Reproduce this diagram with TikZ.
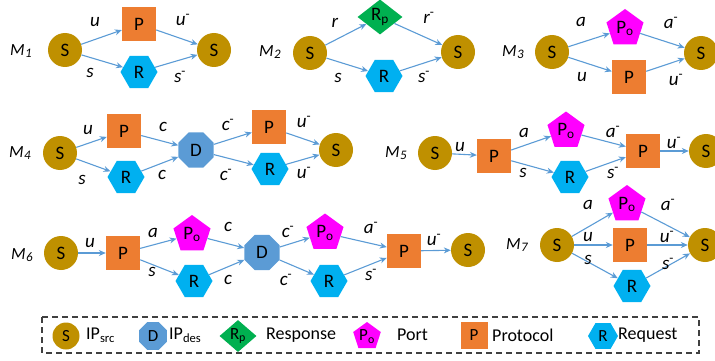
\documentclass[tikz,border=0pt]{standalone}
\usepackage{fontspec}
\setmainfont{Carlito}
\usetikzlibrary{shapes.geometric,arrows.meta}

\definecolor{srcgold}{HTML}{BF9000}
\definecolor{protoorange}{HTML}{ED7D31}
\definecolor{reqblue}{HTML}{00B0F0}
\definecolor{dstblue}{HTML}{5B9BD5}
\definecolor{respgreen}{HTML}{00B050}
\definecolor{portpink}{HTML}{FF00FF}
\definecolor{linkblue}{HTML}{5B9BD5}
\definecolor{framegray}{HTML}{404040}

% motif name and edge labels
\newcommand\mlab[1]{{\itshape M\kern0.5pt\raisebox{-2.5pt}{\fontsize{13}{13}\selectfont #1}}}
\newcommand\barlab[1]{{\itshape #1}\textsuperscript{\upshape -}}

\tikzset{
  every node/.style={inner sep=0pt, text=black},
  big/.style={font=\fontsize{19}{19}\selectfont},
  small/.style={font=\fontsize{17}{17}\selectfont},
  src/.style={circle, fill=srcgold, minimum size=34pt, big},
  proto/.style={rectangle, fill=protoorange, minimum size=34pt, big},
  req/.style={regular polygon, regular polygon sides=6, fill=reqblue, minimum size=37pt, big},
  port/.style={regular polygon, regular polygon sides=5, fill=portpink, minimum size=39pt, big},
  dst/.style={regular polygon, regular polygon sides=8, fill=dstblue, minimum size=38pt, big},
  resp/.style={diamond, fill=respgreen, minimum width=45pt, minimum height=35pt, big},
  lsrc/.style={circle, fill=srcgold, minimum size=27pt, small},
  lproto/.style={rectangle, fill=protoorange, minimum size=27pt, small},
  lreq/.style={regular polygon, regular polygon sides=6, fill=reqblue, minimum size=30pt, small},
  lport/.style={regular polygon, regular polygon sides=5, fill=portpink, minimum size=29pt, small},
  ldst/.style={regular polygon, regular polygon sides=8, fill=dstblue, minimum size=30pt, small},
  lresp/.style={diamond, fill=respgreen, minimum width=37pt, minimum height=32pt, small},
  arr/.style={draw=linkblue, line width=1.1pt, -{Stealth[length=7pt,width=6pt]}},
  lab/.style={font=\fontsize{19}{19}\selectfont\itshape},
  mname/.style={font=\fontsize{17}{17}\selectfont},
  legtext/.style={anchor=west, font=\fontsize{18}{18}\selectfont},
}

\begin{document}
\begin{tikzpicture}[x=1pt, y=-1pt]
\useasboundingbox (0,0) rectangle (715,361);

% ---------- M1 ----------
\node[mname] (m1) at (21,51) {\mlab{1}};
\node[src] (s1a) at (65,50) {S};
\node[proto] (p1) at (139,24) {P};
\node[req] (r1) at (139,72) {R};
\node[src] (s1b) at (214,50) {S};
\draw[arr] (s1a) -- (p1);
\draw[arr] (s1a) -- (r1);
\draw[arr] (p1) -- (s1b);
\draw[arr] (r1) -- (s1b);
\node[lab] (l1a) at (95,22) {u};
\node[lab] (l1b) at (183,20) {\barlab{u}};
\node[lab] (l1c) at (90,73) {s};
\node[lab] (l1d) at (180,77) {\barlab{s}};

% ---------- M2 ----------
\node[mname] (m2) at (270,52) {\mlab{2}};
\node[src] (s2a) at (310,53) {S};
\node[resp] (rp2) at (380,17) {R\textsubscript{p}};
\node[req] (r2) at (384,76) {R};
\node[src] (s2b) at (458,52) {S};
\draw[arr] (s2a) -- (rp2);
\draw[arr] (s2a) -- (r2);
\draw[arr] (rp2) -- (s2b);
\draw[arr] (r2) -- (s2b);
\node[lab] (l2a) at (335,23) {r};
\node[lab] (l2b) at (429,18) {\barlab{r}};
\node[lab] (l2c) at (338,78) {s};
\node[lab] (l2d) at (424,77) {\barlab{s}};

% ---------- M3 ----------
\node[mname] (m3) at (513,52) {\mlab{3}};
\node[src] (s3a) at (552,52) {S};
\node[port] (po3) at (625,28.5) {P\textsubscript{o}};
\node[proto] (p3) at (629,77) {P};
\node[src] (s3b) at (701,53) {S};
\draw[arr] (s3a) -- (po3);
\draw[arr] (s3a) -- (p3);
\draw[arr] (po3) -- (s3b);
\draw[arr] (p3) -- (s3b);
\node[lab] (l3a) at (581,22) {a};
\node[lab] (l3b) at (671,23) {\barlab{a}};
\node[lab] (l3c) at (582,77) {u};
\node[lab] (l3d) at (676,80) {\barlab{u}};

% ---------- M4 ----------
\node[mname] (m4) at (20,153) {\mlab{4}};
\node[src] (s4a) at (60,153) {S};
\node[proto] (p4a) at (124,131) {P};
\node[req] (r4a) at (126,177) {R};
\node[dst] (d4) at (196,150) {D};
\node[proto] (p4b) at (269,127) {P};
\node[req] (r4b) at (270,169) {R};
\node[src] (s4b) at (336,150) {S};
\draw[arr] (s4a) -- (p4a);
\draw[arr] (s4a) -- (r4a);
\draw[arr] (p4a) -- (d4);
\draw[arr] (r4a) -- (d4);
\draw[arr] (d4) -- (p4b);
\draw[arr] (d4) -- (r4b);
\draw[arr] (p4b) -- (s4b);
\draw[arr] (r4b) -- (s4b);
\node[lab] (l4a) at (88,130) {u};
\node[lab] (l4b) at (82,180) {s};
\node[lab] (l4c) at (163,127) {c};
\node[lab] (l4d) at (162,175) {c};
\node[lab] (l4e) at (228,125) {\barlab{c}};
\node[lab] (l4f) at (226,175) {\barlab{c}};
\node[lab] (l4g) at (304,122) {\barlab{u}};
\node[lab] (l4h) at (304,173) {\barlab{u}};

% ---------- M5 ----------
\node[mname] (m5) at (396,153) {\mlab{5}};
\node[src] (s5a) at (435,153) {S};
\node[proto] (p5a) at (494,156) {P};
\node[port] (po5) at (566,131) {P\textsubscript{o}};
\node[req] (r5) at (570,177) {R};
\node[proto] (p5b) at (643,151) {P};
\node[src] (s5b) at (706,151) {S};
\draw[arr] (s5a) -- (p5a);
\draw[arr] (p5a) -- (po5);
\draw[arr] (p5a) -- (r5);
\draw[arr] (po5) -- (p5b);
\draw[arr] (r5) -- (p5b);
\draw[arr] (p5b) -- (s5b);
\node[lab] (l5a) at (460,147) {u};
\node[lab] (l5b) at (524,133) {a};
\node[lab] (l5c) at (523,173) {s};
\node[lab] (l5d) at (613,132) {\barlab{a}};
\node[lab] (l5e) at (613,173) {\barlab{s}};
\node[lab] (l5f) at (674,143) {\barlab{u}};

% ---------- M6 ----------
\node[mname] (m6) at (22,255) {\mlab{6}};
\node[src] (s6a) at (61,253) {S};
\node[proto] (p6a) at (123,253) {P};
\node[port] (po6a) at (192,234.5) {P\textsubscript{o}};
\node[req] (r6a) at (194,281) {R};
\node[dst] (d6) at (262,252.5) {D};
\node[port] (po6b) at (325,233) {P\textsubscript{o}};
\node[req] (r6b) at (329,281) {R};
\node[proto] (p6b) at (404,251) {P};
\node[src] (s6b) at (468,250) {S};
\draw[arr] (s6a) -- (p6a);
\draw[arr] (p6a) -- (po6a);
\draw[arr] (p6a) -- (r6a);
\draw[arr] (po6a) -- (d6);
\draw[arr] (r6a) -- (d6);
\draw[arr] (d6) -- (po6b);
\draw[arr] (d6) -- (r6b);
\draw[arr] (po6b) -- (p6b);
\draw[arr] (r6b) -- (p6b);
\draw[arr] (p6b) -- (s6b);
\node[lab] (l6a) at (90,243) {u};
\node[lab] (l6b) at (153,233) {a};
\node[lab] (l6c) at (152,272) {s};
\node[lab] (l6d) at (228,227) {c};
\node[lab] (l6e) at (228,280) {c};
\node[lab] (l6f) at (288,232) {\barlab{c}};
\node[lab] (l6g) at (286,280) {\barlab{c}};
\node[lab] (l6h) at (371,228) {\barlab{a}};
\node[lab] (l6i) at (371,275) {\barlab{s}};
\node[lab] (l6j) at (434,240) {\barlab{u}};

% ---------- M7 ----------
\node[mname] (m7) at (517,245) {\mlab{7}};
\node[src] (s7a) at (557,245) {S};
\node[port] (po7) at (627,204.5) {P\textsubscript{o}};
\node[proto] (p7) at (630,245) {P};
\node[req] (r7) at (632,286) {R};
\node[src] (s7b) at (705,245) {S};
\draw[arr] (s7a) -- (po7);
\draw[arr] (s7a) -- (p7);
\draw[arr] (s7a) -- (r7);
\draw[arr] (po7) -- (s7b);
\draw[arr] (p7) -- (s7b);
\draw[arr] (r7) -- (s7b);
\node[lab] (l7a) at (588,205) {a};
\node[lab] (l7b) at (588,237) {u};
\node[lab] (l7c) at (588,260) {s};
\node[lab] (l7d) at (668,205) {\barlab{a}};
\node[lab] (l7e) at (667,237) {\barlab{u}};
\node[lab] (l7f) at (668,264) {\barlab{s}};

% ---------- legend ----------
\draw[framegray, line width=1.1pt, dash pattern=on 6pt off 4pt] (42,317) rectangle (699,353);
\node[lsrc] (ks) at (66,336) {S};
\node[legtext] (kst) at (86,335) {IP\textsubscript{src}};
\node[ldst] (kd) at (153,336) {D};
\node[legtext] (kdt) at (169,335) {IP\textsubscript{des}};
\node[lresp] (kr) at (238,336) {R\textsubscript{p}};
\node[legtext] (krt) at (266,335) {Response};
\node[lport] (kp) at (367,336.5) {P\textsubscript{o}};
\node[legtext] (kpt) at (397,335) {Port};
\node[lproto] (kpr) at (474,335.5) {P};
\node[legtext] (kprt) at (492,335) {Protocol};
\node[lreq] (kq) at (603,336) {R};
\node[legtext] (kqt) at (618,335) {Request};
\end{tikzpicture}
\end{document}
